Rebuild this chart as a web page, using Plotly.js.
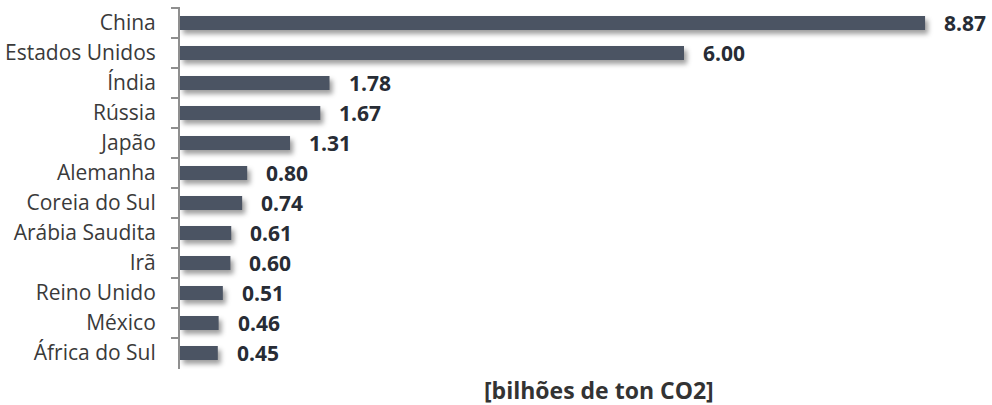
<!DOCTYPE html>
<html>
<head>
<meta charset="utf-8">
<script src="https://cdn.plot.ly/plotly-3.0.1.min.js"></script>
<style>
  html, body { margin: 0; padding: 0; background: #ffffff; }
  #chart { width: 992px; height: 405px; }
  /* soft drop shadow under each bar */
  .trace.bars .point path { filter: drop-shadow(3px 4px 2.5px rgba(0,0,0,0.38)); }
</style>
</head>
<body>
<div id="chart"></div>
<script>
// CO2 emissions by country, billions of tonnes
const countries = [
  "China", "Estados Unidos", "Índia", "Rússia", "Japão", "Alemanha",
  "Coreia do Sul", "Arábia Saudita", "Irã", "Reino Unido", "México", "África do Sul"
];
const emissions = [8.87, 6.00, 1.78, 1.67, 1.31, 0.80, 0.74, 0.61, 0.60, 0.51, 0.46, 0.45];
const unitLabel = "[bilhões de ton CO2]";

const barColor = "#4b5463";
const labelFont = "Open Sans, Liberation Sans, sans-serif";

const trace = {
  type: "bar",
  orientation: "h",
  x: emissions,
  y: countries,
  marker: { color: barColor, line: { width: 0 } },
  hoverinfo: "none"
};

// value labels placed just past the end of each bar
const valueNotes = emissions.map((v, i) => ({
  x: v,
  y: countries[i],
  xref: "x",
  yref: "y",
  text: v.toFixed(2),
  showarrow: false,
  xanchor: "left",
  yanchor: "middle",
  xshift: 17,
  font: { family: labelFont, size: 21, color: "#272c35", weight: "bold" }
}));

valueNotes.push({
  x: 0.525,
  y: -0.058,
  xref: "paper",
  yref: "paper",
  text: unitLabel,
  showarrow: false,
  xanchor: "center",
  yanchor: "middle",
  font: { family: labelFont, size: 23, color: "#333333", weight: "bold" }
});

const layout = {
  width: 992,
  height: 405,
  margin: { l: 180, r: 14, t: 7, b: 36 },
  paper_bgcolor: "#ffffff",
  plot_bgcolor: "#ffffff",
  bargap: 0.53,
  showlegend: false,
  xaxis: {
    range: [0, 9.5],
    visible: false,
    showgrid: false,
    zeroline: false,
    fixedrange: true
  },
  yaxis: {
    type: "category",
    autorange: "reversed",
    showgrid: false,
    zeroline: false,
    showline: true,
    linecolor: "#8f8f8f",
    linewidth: 2,
    ticks: "outside",
    tickson: "boundaries",
    ticklen: 7,
    tickwidth: 2,
    tickcolor: "#8f8f8f",
    ticklabelstandoff: 18,
    tickfont: { family: labelFont, size: 21, color: "#3a3a3a" },
    fixedrange: true
  },
  annotations: valueNotes
};

Plotly.newPlot("chart", [trace], layout, { displayModeBar: false, staticPlot: true });
</script>
</body>
</html>
